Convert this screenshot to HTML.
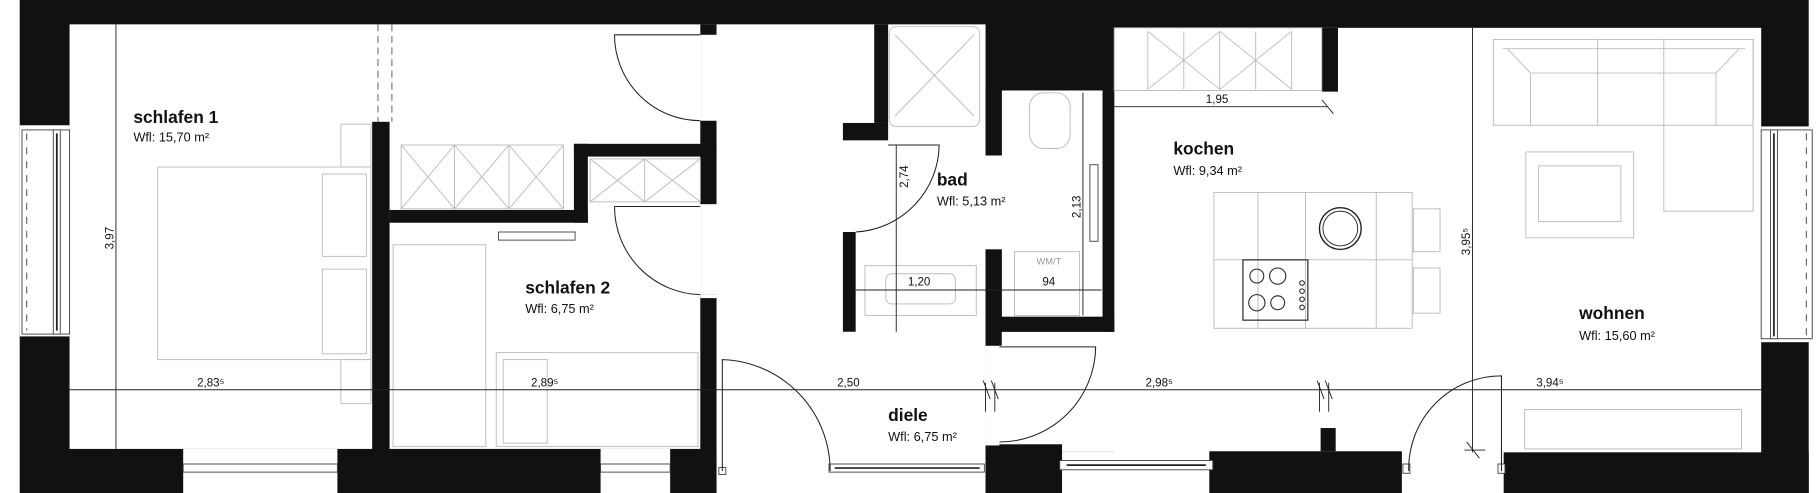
<!DOCTYPE html>
<html><head><meta charset="utf-8"><style>
html,body{margin:0;padding:0;background:#fff;}
svg{display:block;}
text{font-family:"Liberation Sans",sans-serif;fill:#111;}
.b{font-weight:bold;font-size:15px;}
.s{font-size:11px;}
.d{font-size:10px;}
.f{fill:none;stroke:#bbb;stroke-width:0.8;}
.l{fill:none;stroke:#222;stroke-width:0.9;}
.w{fill:#fff;stroke:#444;stroke-width:0.8;}
</style></head><body>
<svg width="1818" height="493" viewBox="0 0 1568 425" preserveAspectRatio="none" xmlns="http://www.w3.org/2000/svg">
<rect width="1568" height="425" fill="#fff"/>
<rect x="17" y="0" width="1543" height="425" fill="#111"/>
<rect x="60" y="21" width="545" height="366" fill="#fff"/>
<rect x="605" y="21" width="150" height="366" fill="#fff"/>
<rect x="618" y="285" width="232" height="140" fill="#fff"/>
<rect x="754" y="21" width="96" height="265" fill="#fff"/>
<rect x="738" y="121" width="112" height="165" fill="#fff"/>
<rect x="849" y="134" width="16" height="81" fill="#fff"/>
<rect x="864" y="78" width="87" height="196" fill="#fff"/>
<rect x="961" y="24" width="558" height="366" fill="#fff"/>
<rect x="850" y="298" width="120" height="85" fill="#fff"/>
<rect x="862" y="286" width="200" height="103" fill="#fff"/>
<rect x="1209" y="389" width="88" height="36" fill="#fff"/>
<rect x="321" y="105" width="15" height="290" fill="#111"/>
<rect x="336" y="181" width="171" height="11" fill="#111"/>
<rect x="495" y="124" width="12" height="68" fill="#111"/>
<rect x="495" y="124" width="123" height="11" fill="#111"/>
<rect x="604" y="104" width="14" height="72" fill="#111"/>
<rect x="604" y="254" width="14" height="171" fill="#111"/>
<rect x="604" y="21" width="14" height="9" fill="#111"/>
<rect x="754" y="21" width="12" height="85" fill="#111"/>
<rect x="727" y="106" width="39" height="15" fill="#111"/>
<rect x="727" y="200" width="11" height="86" fill="#111"/>
<rect x="850" y="78" width="14" height="56" fill="#111"/>
<rect x="850" y="215" width="14" height="83" fill="#111"/>
<rect x="864" y="273" width="97" height="13" fill="#111"/>
<rect x="951" y="21" width="10" height="265" fill="#111"/>
<rect x="1140" y="24" width="14" height="55" fill="#111"/>
<rect x="1139" y="369" width="13" height="20" fill="#111"/>
<rect x="850" y="383" width="66" height="42" fill="#111"/>
<rect x="1043" y="389" width="166" height="36" fill="#111"/>
<rect x="1297" y="390" width="263" height="35" fill="#111"/>
<rect x="604" y="101" width="14" height="3" fill="#fff"/>
<rect x="604" y="254" width="14" height="3" fill="#fff"/>
<rect x="850" y="381" width="12" height="3" fill="#fff"/>
<rect x="17" y="108" width="43" height="182" fill="#fff"/>
<rect x="19" y="112" width="41" height="176" class="w"/>
<line x1="23" y1="115" x2="23" y2="285" stroke="#666" stroke-dasharray="6,6"/>
<rect x="46" y="112" width="6" height="176" class="w"/>
<line x1="49" y1="115" x2="49" y2="285" stroke="#222" stroke-width="1.5"/>
<rect x="1519" y="109" width="45" height="186" fill="#fff"/>
<rect x="1519" y="112" width="44" height="180" class="w"/>
<line x1="1558" y1="115" x2="1558" y2="290" stroke="#666" stroke-dasharray="6,6"/>
<rect x="1527" y="112" width="6" height="180" class="w"/>
<line x1="1530" y1="115" x2="1530" y2="290" stroke="#222" stroke-width="1.5"/>
<rect x="158" y="387" width="133" height="38" fill="#fff"/><rect x="158" y="400" width="133" height="7" class="w"/>
<rect x="518" y="387" width="60" height="38" fill="#fff"/><rect x="518" y="400" width="60" height="7" class="w"/>
<rect x="715" y="400" width="134" height="7" class="w"/><line x1="720" y1="403.5" x2="845" y2="403.5" stroke="#222" stroke-width="1.5"/>
<rect x="916" y="389" width="127" height="36" fill="#fff"/><rect x="914" y="397" width="132" height="8" class="w"/><line x1="920" y1="401" x2="1040" y2="401" stroke="#222" stroke-width="1.5"/>
<rect x="620" y="403" width="6" height="6" class="w"/><rect x="1210" y="400" width="6" height="8" class="w"/><rect x="1292" y="400" width="6" height="8" class="w"/>
<line x1="326" y1="21" x2="326" y2="105" stroke="#777" stroke-dasharray="6,4"/>
<line x1="338" y1="21" x2="338" y2="105" stroke="#777" stroke-dasharray="6,4"/>
<path class="l" d="M530,30 H604 M530,30 A74,74 0 0 0 604,104"/>
<path class="l" d="M530,178 H604 M530,178 A76,76 0 0 0 604,254"/>
<path class="l" d="M623,406 V310 A96,96 0 0 1 716,406"/>
<path class="l" d="M862,299 H945 A83,83 0 0 1 862,381"/>
<path class="l" d="M1295,406 V324 A80,80 0 0 0 1215,406"/>
<path class="l" d="M738,200 A76,76 0 0 0 810,125 H766"/>
<rect class="f" x="136" y="144" width="184" height="166"/>
<rect class="f" x="278" y="150" width="38" height="71"/><rect class="f" x="278" y="232" width="38" height="73"/>
<rect class="f" x="294" y="107" width="26" height="37"/><rect class="f" x="294" y="310" width="26" height="38"/>
<g class="f"><rect x="346" y="125" width="140" height="55"/><path d="M392,125V180M439,125V180M346,125L392,180M392,125L346,180M392,125L439,180M439,125L392,180M439,125L486,180M486,125L439,180"/></g>
<g class="f"><rect x="509" y="137" width="95" height="37"/><path d="M556,137V174M509,137L556,174M556,137L509,174M556,137L604,174M604,137L556,174"/></g>
<rect x="430" y="200" width="66" height="7" fill="#fff" stroke="#444" stroke-width="0.8"/>
<rect class="f" x="339" y="211" width="80" height="174"/>
<rect class="f" x="428" y="304" width="174" height="81"/><rect class="f" x="434" y="310" width="38" height="72"/>
<g class="f"><rect x="961" y="24" width="179" height="54"/><path d="M990,27V77M1021,27V77M1052,27V77M1083,27V77M1114,27V77M990,27L1052,77M1052,27L990,77M1052,27L1114,77M1114,27L1052,77"/></g>
<rect class="f" x="767" y="23" width="78" height="86" rx="6"/>
<path class="f" d="M772,30L840,100M840,30L772,100"/>
<rect class="f" x="888" y="80" width="35" height="48" rx="12"/>
<rect fill="#fff" stroke="#444" stroke-width="0.8" x="940" y="142" width="7" height="66"/>
<rect class="f" x="875" y="217" width="56" height="55"/>
<rect class="f" x="746" y="229" width="96" height="43"/><rect class="f" x="764" y="236" width="60" height="26" rx="5"/>
<g class="f"><rect x="1047" y="166" width="171" height="117"/><path d="M1047,224H1218M1085,166V283M1126,166V283M1187,166V283"/>
<rect x="1219" y="180" width="23" height="37"/><rect x="1219" y="231" width="23" height="39"/>
<rect x="1288" y="34" width="224" height="74"/><path d="M1296,42H1505M1300,42L1320,63H1480L1500,42M1320,63V108M1480,63V108M1378,34V108M1435,34V182H1512V34"/>
<rect x="1316" y="131" width="93" height="74"/><rect x="1327" y="143" width="71" height="48"/>
<rect x="1315" y="353" width="187" height="34"/></g>
<ellipse cx="1156" cy="197" rx="18" ry="18" fill="none" stroke="#222" stroke-width="1.2"/>
<ellipse cx="1156" cy="197" rx="15" ry="15" fill="none" stroke="#222" stroke-width="0.8"/>
<rect x="1072" y="224" width="56" height="52" fill="none" stroke="#222" stroke-width="1"/>
<g fill="none" stroke="#222" stroke-width="0.9"><circle cx="1084" cy="238" r="6"/><circle cx="1102" cy="238" r="7"/><circle cx="1084" cy="261" r="7"/><circle cx="1102" cy="261" r="6"/>
<circle cx="1123" cy="244" r="2"/><circle cx="1123" cy="251" r="2"/><circle cx="1123" cy="258" r="2"/><circle cx="1123" cy="265" r="2"/></g>
<g stroke="#222" stroke-width="0.8" fill="none">
<line x1="60" y1="336" x2="1519" y2="336"/>
<line x1="100" y1="21" x2="100" y2="387"/>
<line x1="1270" y1="24" x2="1270" y2="390"/>
<line x1="961" y1="92" x2="1145" y2="92"/>
<line x1="738" y1="250" x2="950" y2="250"/>
<line x1="773" y1="125" x2="773" y2="286"/>
<line x1="934" y1="80" x2="934" y2="272"/>
<path d="M848,328L854,344M855,328L861,344M850,330V355M858,330V355M1136,328L1142,344M1143,328L1149,344M1138,330V355M1146,330V355M1263,388H1281M1265,381L1276,395M1140,86L1150,98"/>
</g>
<text class="b" x="115" y="106">schlafen 1</text><text class="s" x="115" y="122">Wfl:  15,70 m²</text>
<text class="b" x="453" y="253">schlafen 2</text><text class="s" x="453" y="270">Wfl:    6,75 m²</text>
<text class="b" x="808" y="160">bad</text><text class="s" x="808" y="177">Wfl: 5,13 m²</text>
<text class="b" x="1012" y="133">kochen</text><text class="s" x="1012" y="151">Wfl: 9,34 m²</text>
<text class="b" x="1362" y="275">wohnen</text><text class="s" x="1362" y="293">Wfl: 15,60 m²</text>
<text class="b" x="766" y="363">diele</text><text class="s" x="766" y="380">Wfl: 6,75 m²</text>
<text class="d" x="170" y="333">2,83⁵</text><text class="d" x="458" y="333">2,89⁵</text>
<text class="d" x="722" y="333">2,50</text><text class="d" x="988" y="333">2,98⁵</text><text class="d" x="1325" y="333">3,94⁵</text>
<text class="d" x="1040" y="89">1,95</text><text class="d" x="783" y="246">1,20</text><text class="d" x="899" y="246">94</text>
<text class="d" x="894" y="228" style="font-size:8px;fill:#999">WM/T</text>
<text class="d" transform="translate(98,215) rotate(-90)">3,97</text>
<text class="d" transform="translate(783,162) rotate(-90)">2,74</text>
<text class="d" transform="translate(932,188) rotate(-90)">2,13</text>
<text class="d" transform="translate(1268,220) rotate(-90)">3,95⁵</text>
</svg>
</body></html>
